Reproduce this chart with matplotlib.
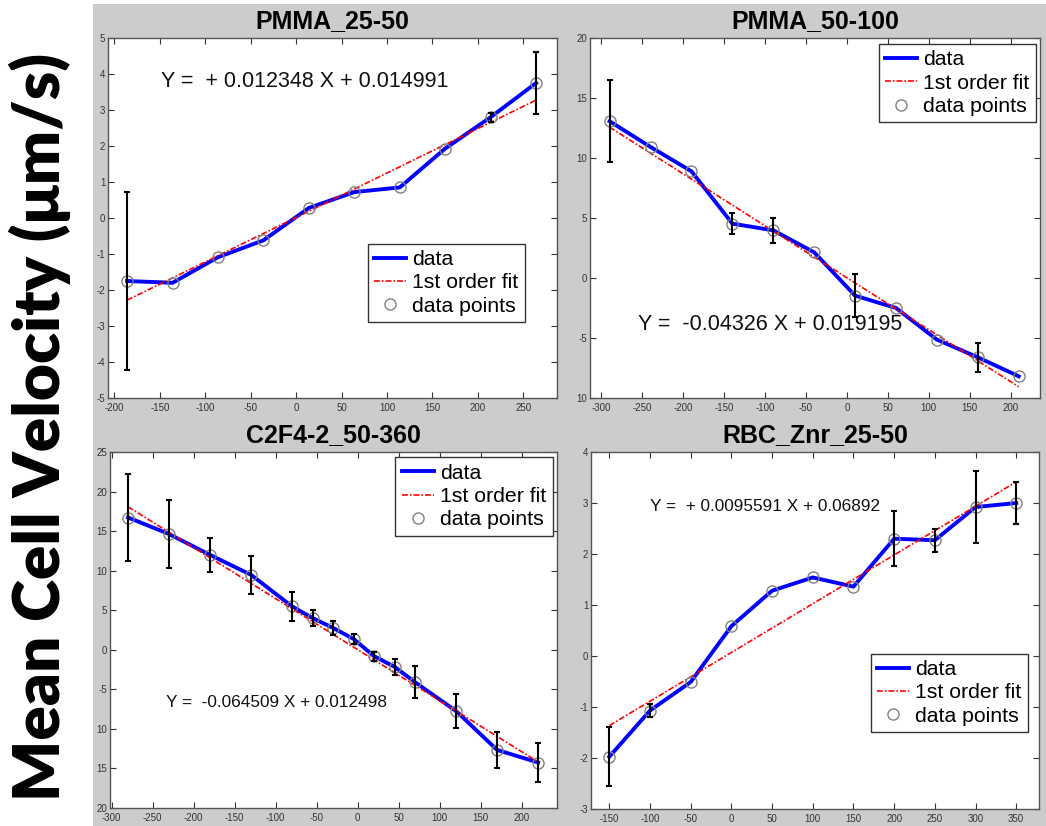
import matplotlib
matplotlib.use("Agg")
import matplotlib.pyplot as plt
import numpy as np

plt.rcParams['axes.unicode_minus'] = False
plt.rcParams['font.family'] = ['Liberation Sans', 'DejaVu Sans']

# --- data ---
x_pmma25 = [-186, -136, -86, -36, 14, 64, 114, 164, 214, 264]
y_pmma25 = [-1.75, -1.8, -1.09, -0.62, 0.28, 0.72, 0.85, 1.93, 2.8, 3.75]
e_pmma25 = [2.48, 0, 0, 0, 0, 0, 0, 0, 0.12, 0.87]
fit_pmma25 = (0.012348, 0.014991)
eq_pmma25 = "Y =  + 0.012348 X + 0.014991"

x_pmma50 = [-290, -240, -190, -140, -90, -40, 10, 60, 110, 160, 210]
y_pmma50 = [13.06, 10.92, 8.89, 4.53, 3.97, 2.14, -1.47, -2.5, -5.14, -6.61, -8.19]
e_pmma50 = [3.4, 0, 0, 0.88, 1.05, 0, 1.77, 0, 0, 1.2, 0]
fit_pmma50 = (-0.04326, 0.019195)
eq_pmma50 = "Y =  -0.04326 X + 0.019195"

x_c2f4 = [-280, -230, -180, -130, -80, -55, -30, -5, 20, 45, 70, 120, 170, 220]
y_c2f4 = [16.72, 14.63, 11.99, 9.47, 5.48, 4.01, 2.76, 1.37, -0.81, -2.16, -4.1, -7.75, -12.66, -14.25]
e_c2f4 = [5.54, 4.28, 2.2, 2.37, 1.83, 1.0, 0.9, 0.6, 0.55, 1.0, 2.0, 2.14, 2.27, 2.45]
fit_c2f4 = (-0.064509, 0.012498)
eq_c2f4 = "Y =  -0.064509 X + 0.012498"

x_rbc = [-150, -100, -50, 0, 50, 100, 150, 200, 250, 300, 350]
y_rbc = [-1.975, -1.07, -0.51, 0.585, 1.28, 1.54, 1.36, 2.3, 2.27, 2.92, 3.0]
e_rbc = [0.58, 0.12, 0, 0, 0, 0, 0, 0.54, 0.23, 0.7, 0.42]
fit_rbc = (0.0095591, 0.06892)
eq_rbc = "Y =  + 0.0095591 X + 0.06892"

titles = ["PMMA_25-50", "PMMA_50-100", "C2F4-2_50-360", "RBC_Znr_25-50"]

xt_pmma25 = list(range(-200, 251, 50))
yt_pmma25 = list(range(-5, 6, 1))
ytl_pmma25 = [str(v) for v in yt_pmma25]
xt_pmma50 = list(range(-300, 201, 50))
yt_pmma50 = [-10, -5, 0, 5, 10, 15, 20]
ytl_pmma50 = ["10", "-5", "0", "5", "10", "15", "20"]
xt_c2f4 = list(range(-300, 201, 50))
yt_c2f4 = [-20, -15, -10, -5, 0, 5, 10, 15, 20, 25]
ytl_c2f4 = ["20", "15", "10", "-5", "0", "5", "10", "15", "20", "25"]
xt_rbc = list(range(-150, 351, 50))
yt_rbc = list(range(-3, 5, 1))
ytl_rbc = [str(v) for v in yt_rbc]

W, H = 1046, 826
fig = plt.figure(figsize=(W / 100, H / 100), dpi=100)
fig.patch.set_facecolor('white')

# grey MATLAB figure background
fig.patches.append(plt.Rectangle((93 / W, 0), 1 - 93 / W, 1 - 4 / H,
                                 transform=fig.transFigure, facecolor='#cccccc',
                                 edgecolor='none', zorder=-10))


def px_rect(l, t, r, b):
    return [l / W, 1 - b / H, (r - l) / W, (b - t) / H]


panels = [
    dict(rect=px_rect(108, 38, 557, 398), x=x_pmma25, y=y_pmma25, e=e_pmma25, fit=fit_pmma25,
         eq=eq_pmma25, eqpos=(-149, 3.8), eqsize=15.5, xlim=(-207, 287), ylim=(-5, 5),
         xt=xt_pmma25, yt=yt_pmma25, ytl=ytl_pmma25,
         leg=dict(loc='lower right', bbox_to_anchor=(0.929, 0.211))),
    dict(rect=px_rect(590, 38, 1040, 398), x=x_pmma50, y=y_pmma50, e=e_pmma50, fit=fit_pmma50,
         eq=eq_pmma50, eqpos=(-255, -3.9), eqsize=15.5, xlim=(-314, 236), ylim=(-10, 20),
         xt=xt_pmma50, yt=yt_pmma50, ytl=ytl_pmma50,
         leg=dict(loc='upper right', bbox_to_anchor=(0.991, 0.983))),
    dict(rect=px_rect(110, 452, 557, 808), x=x_c2f4, y=y_c2f4, e=e_c2f4, fit=fit_c2f4,
         eq=eq_c2f4, eqpos=(-234, -6.7), eqsize=12.4, xlim=(-302, 243), ylim=(-20, 25),
         xt=xt_c2f4, yt=yt_c2f4, ytl=ytl_c2f4,
         leg=dict(loc='upper right', bbox_to_anchor=(0.99, 0.985))),
    dict(rect=px_rect(591, 452, 1039, 809), x=x_rbc, y=y_rbc, e=e_rbc, fit=fit_rbc,
         eq=eq_rbc, eqpos=(-100, 2.94), eqsize=12.4, xlim=(-172.5, 378), ylim=(-3, 4),
         xt=xt_rbc, yt=yt_rbc, ytl=ytl_rbc,
         leg=dict(loc='lower right', bbox_to_anchor=(0.975, 0.216))),
]

for p, title in zip(panels, titles):
    ax = fig.add_axes(p['rect'])
    x = np.array(p['x'])
    y = np.array(p['y'])
    e = np.array(p['e'])
    a, b = p['fit']

    ax.plot(x, y, color='#0000ff', lw=2.8, label='data', zorder=3)
    ax.plot(x, a * x + b, color='#ff0000', lw=1.2, dashes=(3.5, 1.2, 1.0, 1.2),
            label='1st order fit', zorder=4)
    ax.plot(x, y, 'o', mfc='none', mec='#808080', ms=8, mew=1.0, label='data points', zorder=5)
    m = e > 0
    ax.errorbar(x[m], y[m], yerr=e[m], fmt='none', ecolor='black', elinewidth=1.5,
                capsize=2.5, capthick=1.5, zorder=6)

    ax.text(p['eqpos'][0], p['eqpos'][1], p['eq'], fontsize=p['eqsize'], va='center',
            ha='left', color='#111111')

    ax.set_xlim(*p['xlim'])
    ax.set_ylim(*p['ylim'])
    ax.set_xticks(p['xt'])
    ax.set_yticks(p['yt'])
    ax.set_yticklabels(p['ytl'])
    ax.tick_params(direction='in', top=True, right=True, labelsize=7, length=4,
                   colors='#333333', pad=2)
    ax.tick_params(axis='x', pad=3.5)
    for s in ax.spines.values():
        s.set_color('#555555')
        s.set_linewidth(1.0)
    ax.set_title(title, fontsize=18, fontweight='bold', pad=7)

    leg = ax.legend(fontsize=15.3, fancybox=False, framealpha=1, edgecolor='#333333',
                    handlelength=1.5, handletextpad=0.3, borderpad=0.3, labelspacing=0.2,
                    borderaxespad=0, **p['leg'])
    leg.get_frame().set_linewidth(1.0)

fig.text(0.038, 0.483, "Mean Cell Velocity (μm/s)", rotation=90, fontsize=46,
         fontweight='heavy', family=['Lato', 'DejaVu Sans'], ha='center', va='center')

fig.savefig('out.png', dpi=100, facecolor=fig.get_facecolor())
